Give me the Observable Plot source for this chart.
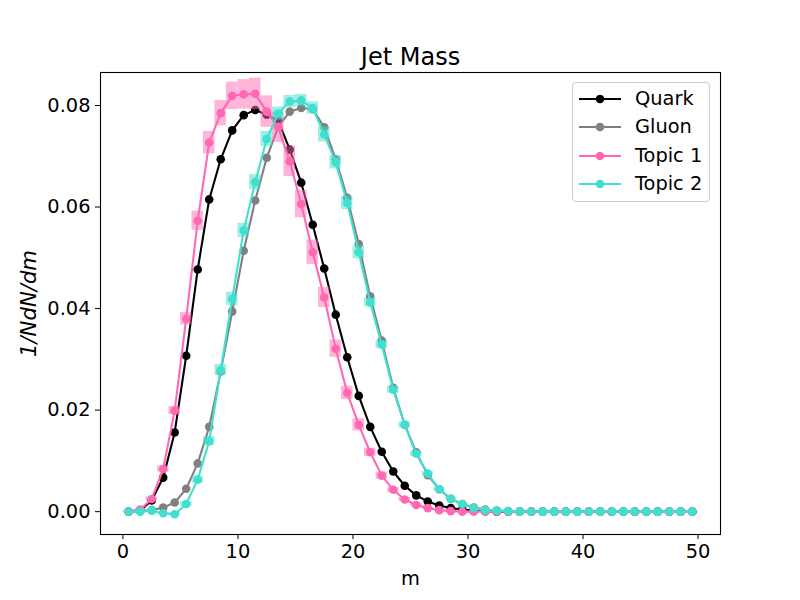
<!DOCTYPE html>
<html><head><meta charset="utf-8">
<script src="https://cdn.jsdelivr.net/npm/d3@7"></script>
<script src="https://cdn.jsdelivr.net/npm/@observablehq/plot@0.6"></script>
<style>
body{margin:0;background:#fff;}
#wrap{position:relative;width:800px;height:600px;font-family:"DejaVu Sans",sans-serif;}
#legend{position:absolute;left:572px;top:82px;width:138px;height:120px;border:1px solid #cccccc;border-radius:4px;background:rgba(255,255,255,0.8);box-sizing:border-box;}
.row{position:absolute;left:0;height:28px;width:136px;}
.row svg{position:absolute;left:0;top:0;}
.row span{position:absolute;left:62px;top:0;line-height:28px;font-size:19.4px;color:#000;white-space:nowrap;}
</style></head><body><div id="wrap"><div id="legend"></div></div>
<script>
const title = "Jet Mass";
const xLabel = "m";
const yLabel = "1/NdN/dm";
const seriesNames = ["Quark", "Gluon", "Topic 1", "Topic 2"];
const seriesColors = ["#000000", "#808080", "#ff69b4", "#40e0d0"];
const xTicks = [0, 10, 20, 30, 40, 50];
const yTicks = [0.00, 0.02, 0.04, 0.06, 0.08];

const binCenters = [0.5,1.5,2.5,3.5,4.5,5.5,6.5,7.5,8.5,9.5,10.5,11.5,12.5,13.5,14.5,15.5,16.5,17.5,18.5,19.5,
  20.5,21.5,22.5,23.5,24.5,25.5,26.5,27.5,28.5,29.5,30.5,31.5,32.5,33.5,34.5,35.5,36.5,37.5,38.5,39.5,
  40.5,41.5,42.5,43.5,44.5,45.5,46.5,47.5,48.5,49.5];

const quark = [0.0000,0.0002,0.0022,0.0067,0.0156,0.0307,0.0477,0.0615,0.0694,0.0751,
  0.0781,0.0791,0.0782,0.0770,0.0713,0.0648,0.0565,0.0479,0.0388,0.0304,
  0.0228,0.0167,0.0118,0.0079,0.0051,0.0032,0.0020,0.0012,0.0007,0.0004,
  0.0002,0.0001,0,0,0,0,0,0,0,0, 0,0,0,0,0,0,0,0,0,0];
const gluon = [0.0000,0.0001,0.0003,0.0008,0.0018,0.0045,0.0095,0.0167,0.0276,0.0394,
  0.0514,0.0613,0.0697,0.0758,0.0788,0.0795,0.0793,0.0757,0.0694,0.0618,
  0.0527,0.0424,0.0337,0.0244,0.0171,0.0117,0.0072,0.0044,0.0025,0.0015,
  0.0008,0.0004,0.0002,0.0001,0,0,0,0,0,0, 0,0,0,0,0,0,0,0,0,0];
const topic1 = [0.0000,0.0004,0.0025,0.0084,0.0199,0.0380,0.0573,0.0727,0.0785,0.0819,
  0.0822,0.0823,0.0788,0.0757,0.0690,0.0606,0.0511,0.0422,0.0321,0.0234,
  0.0171,0.0117,0.0071,0.0043,0.0024,0.0013,0.0007,0.0003,0.0001,0,
  0,0,0,0,0,0,0,0,0,0, 0,0,0,0,0,0,0,0,0,0];
const topic2 = [0.0000,0.0000,0.0002,-0.0003,-0.0005,0.0015,0.0063,0.0139,0.0279,0.0419,
  0.0554,0.0649,0.0734,0.0784,0.0808,0.0810,0.0795,0.0743,0.0688,0.0608,
  0.0511,0.0412,0.0329,0.0240,0.0171,0.0114,0.0075,0.0044,0.0026,0.0015,
  0.0007,0.0003,0.0002,0.0001,0,0,0,0,0,0, 0,0,0,0,0,0,0,0,0,0];
const topic1Err = [0.0001,0.0002,0.0004,0.0006,0.0008,0.0012,0.0019,0.0022,0.0025,0.0027,
  0.0029,0.0031,0.0031,0.0030,0.0030,0.0027,0.0024,0.0020,0.0017,0.0013,
  0.0012,0.0008,0.0007,0.0005,0.0004,0.0003,0.0002,0.0001,0.0001,0.0001,
  0.0001,0.0001,0.0001,0.0001,0.0001,0.0001,0.0001,0.0001,0.0001,0.0001,
  0.0001,0.0001,0.0001,0.0001,0.0001,0.0001,0.0001,0.0001,0.0001,0.0001];
const topic2Err = [0.0001,0.0001,0.0001,0.0002,0.0003,0.0005,0.0007,0.0009,0.0011,0.0013,
  0.0014,0.0015,0.0015,0.0013,0.0012,0.0012,0.0012,0.0015,0.0013,0.0013,
  0.0013,0.0009,0.0008,0.0007,0.0006,0.0005,0.0004,0.0003,0.0002,0.0002,
  0.0001,0.0001,0.0001,0.0001,0.0001,0.0001,0.0001,0.0001,0.0001,0.0001,
  0.0001,0.0001,0.0001,0.0001,0.0001,0.0001,0.0001,0.0001,0.0001,0.0001];

const seriesValues = [quark, gluon, topic1, topic2];
const table = (vals, err) => binCenters.map((x, i) => ({x, y: vals[i], e: err ? err[i] : 0}));
const data = seriesValues.map((v, k) => table(v, k === 2 ? topic1Err : k === 3 ? topic2Err : null));

function seriesMarks(k, withBoxes) {
  const m = [];
  if (withBoxes) {
    m.push(Plot.rect(data[k], {x1: d => d.x - 0.5, x2: d => d.x + 0.5, y1: d => d.y - d.e, y2: d => d.y + d.e,
      fill: seriesColors[k], fillOpacity: 0.5}));
  }
  m.push(Plot.line(data[k], {x: "x", y: "y", stroke: seriesColors[k], strokeWidth: 2.1}));
  m.push(Plot.dot(data[k], {x: "x", y: "y", r: 4.3, fill: seriesColors[k], stroke: "none"}));
  return m;
}

const chart = Plot.plot({
  width: 800, height: 600,
  marginLeft: 100, marginRight: 80, marginTop: 72, marginBottom: 66,
  style: {fontFamily: "DejaVu Sans", fontSize: "19.4px", background: "white", color: "black"},
  x: {domain: [-1.95, 51.95]},
  y: {domain: [-0.0045, 0.0865]},
  marks: [
    ...seriesMarks(0, false),
    ...seriesMarks(1, false),
    ...seriesMarks(2, true),
    ...seriesMarks(3, true),
    Plot.frame({stroke: "black", strokeWidth: 1.1}),
    Plot.axisX({ticks: xTicks, tickSize: 5, tickPadding: 5, fontSize: 19.4, label: null}),
    Plot.axisY({ticks: yTicks, tickSize: 5, tickPadding: 5, fontSize: 19.4, label: null, tickFormat: d3.format(".2f")}),
    Plot.text([xLabel], {frameAnchor: "bottom", dy: 44, fontSize: 19.4, lineAnchor: "middle"}),
    Plot.text([yLabel], {frameAnchor: "left", dx: -71, rotate: -90, fontSize: 21.2, fontStyle: "italic", textAnchor: "middle", lineAnchor: "middle"}),
    Plot.text([title], {frameAnchor: "top", dy: -15, fontSize: 24, lineAnchor: "middle"})
  ]
});
const wrap = document.getElementById("wrap");
wrap.insertBefore(chart, wrap.firstChild);

const legend = document.getElementById("legend");
seriesNames.forEach((name, k) => {
  const row = document.createElement("div");
  row.className = "row";
  row.style.top = (2 + k * 28.35) + "px";
  row.innerHTML = `<svg width="60" height="28"><line x1="6" x2="48" y1="14" y2="14" stroke="${seriesColors[k]}" stroke-width="2.1"/><circle cx="27" cy="14" r="4.3" fill="${seriesColors[k]}"/></svg><span></span>`;
  row.querySelector("span").textContent = name;
  legend.appendChild(row);
});
</script>
</body></html>
